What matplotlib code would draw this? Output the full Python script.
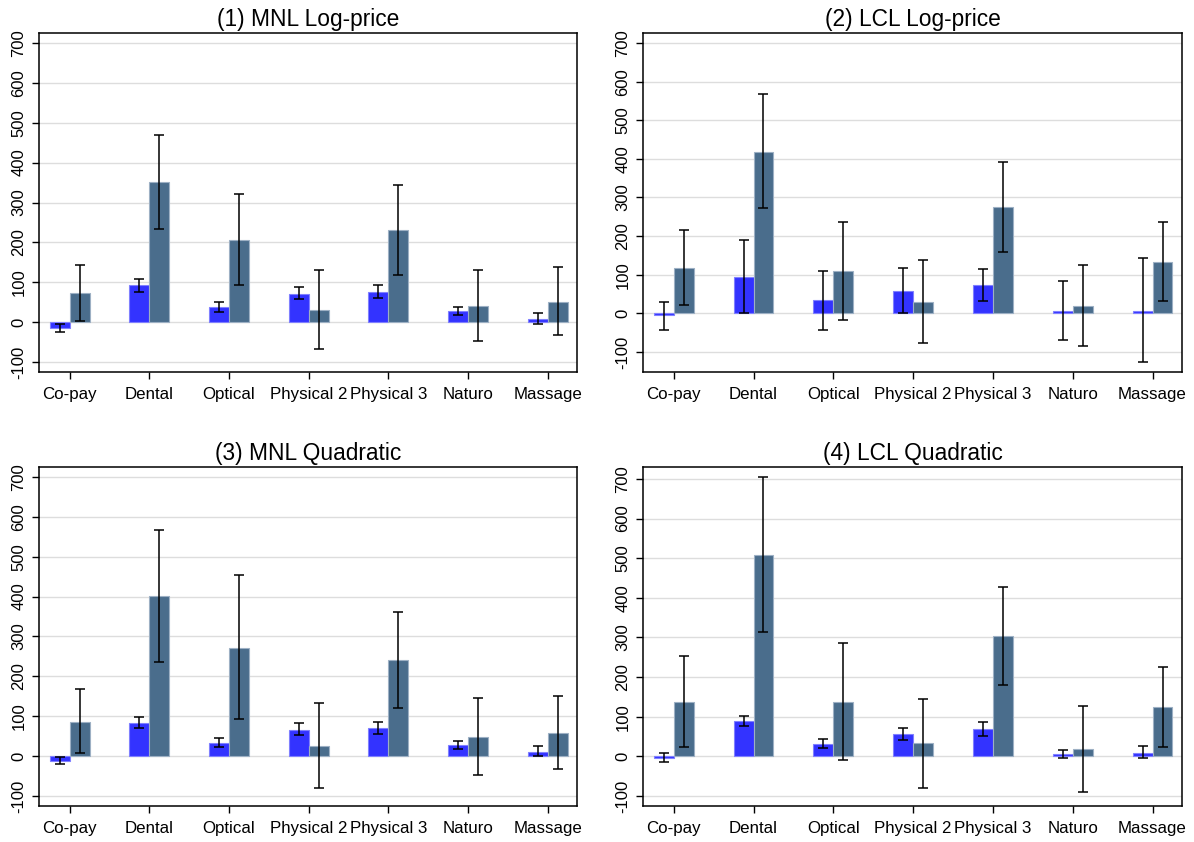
import numpy as np
import matplotlib
matplotlib.use("Agg")
import matplotlib.pyplot as plt

plt.rcParams['font.family'] = ['Liberation Sans', 'DejaVu Sans']

categories = ["Co-pay", "Dental", "Optical", "Physical 2", "Physical 3", "Naturo", "Massage"]
titles = ["(1) MNL Log-price", "(2) LCL Log-price", "(3) MNL Quadratic", "(4) LCL Quadratic"]

# blue series: value, lower, upper
blue_val = [
    [-14, 92, 38, 71, 75, 28, 8],
    [-4, 94, 34, 58, 73, 5, 5],
    [-12, 84, 34, 66, 70, 27, 11],
    [-4, 89, 31, 56, 69, 7, 8],
]
blue_lo = [
    [-25, 76, 26, 57, 60, 17, -4],
    [-43, 0, -42, 0, 32, -69, -127],
    [-21, 70, 24, 53, 55, 17, 0],
    [-15, 76, 20, 41, 51, -3, -5],
]
blue_hi = [
    [-4, 109, 50, 89, 92, 38, 23],
    [30, 190, 110, 118, 116, 83, 142],
    [-2, 98, 46, 83, 85, 37, 25],
    [8, 103, 43, 71, 86, 17, 25],
]

# grey series
grey_val = [
    [74, 351, 207, 31, 230, 41, 51],
    [118, 418, 110, 29, 276, 20, 132],
    [86, 401, 272, 26, 241, 49, 58],
    [137, 508, 137, 34, 304, 18, 124],
]
grey_lo = [
    [3, 234, 93, -67, 118, -48, -33],
    [22, 272, -18, -77, 160, -84, 31],
    [7, 236, 94, -80, 120, -47, -32],
    [24, 313, -8, -80, 179, -91, 24],
]
grey_hi = [
    [144, 469, 322, 131, 345, 132, 138],
    [215, 567, 236, 138, 393, 124, 236],
    [168, 566, 453, 133, 362, 146, 150],
    [253, 705, 285, 146, 427, 126, 226],
]

ylims = [(-125, 725), (-152, 726), (-125, 725), (-125, 730)]
yticks = [-100, 0, 100, 200, 300, 400, 500, 600, 700]

blue = "#3333ff"
grey = "#4a6d8c"

fig = plt.figure(figsize=(11.94, 8.42), dpi=100)
positions = [
    [0.0327, 0.5582, 0.4506, 0.4026],
    [0.5385, 0.5582, 0.4515, 0.4026],
    [0.0327, 0.0428, 0.4506, 0.4026],
    [0.5385, 0.0428, 0.4515, 0.4026],
]

x = np.arange(len(categories))
w = 0.25
for k in range(4):
    ax = fig.add_axes(positions[k])
    bv = np.array(blue_val[k]); gv = np.array(grey_val[k])
    berr = [bv - np.array(blue_lo[k]), np.array(blue_hi[k]) - bv]
    gerr = [gv - np.array(grey_lo[k]), np.array(grey_hi[k]) - gv]
    ax.bar(x - w / 2, bv, w, color=blue, edgecolor="#8080ff", linewidth=0.8, zorder=2)
    ax.bar(x + w / 2, gv, w, color=grey, edgecolor="#9db0c4", linewidth=0.8, zorder=2)
    ax.errorbar(x - w / 2, bv, yerr=berr, fmt="none", ecolor="black",
                elinewidth=1.1, capsize=3.5, capthick=1.1, zorder=3)
    ax.errorbar(x + w / 2, gv, yerr=gerr, fmt="none", ecolor="black",
                elinewidth=1.1, capsize=3.5, capthick=1.1, zorder=3)
    ax.set_xlim(-0.385, 6.37)
    ax.set_ylim(*ylims[k])
    ax.set_yticks(yticks)
    ax.set_yticklabels([str(t) for t in yticks], rotation=90, va="center", fontsize=12)
    ax.set_xticks(x)
    ax.set_xticklabels(categories, fontsize=12.2)
    ax.yaxis.grid(True, color="#dddddd", linewidth=1.0, zorder=0)
    ax.set_axisbelow(True)
    ax.tick_params(direction="out", length=5, width=1, colors="black", pad=4)
    ax.tick_params(axis="x", pad=5.5)
    for s in ax.spines.values():
        s.set_linewidth(1.1)
        s.set_color("black")
    ax.set_title(titles[k], fontsize=16.4, pad=5)

plt.savefig("out.png", dpi=100)
